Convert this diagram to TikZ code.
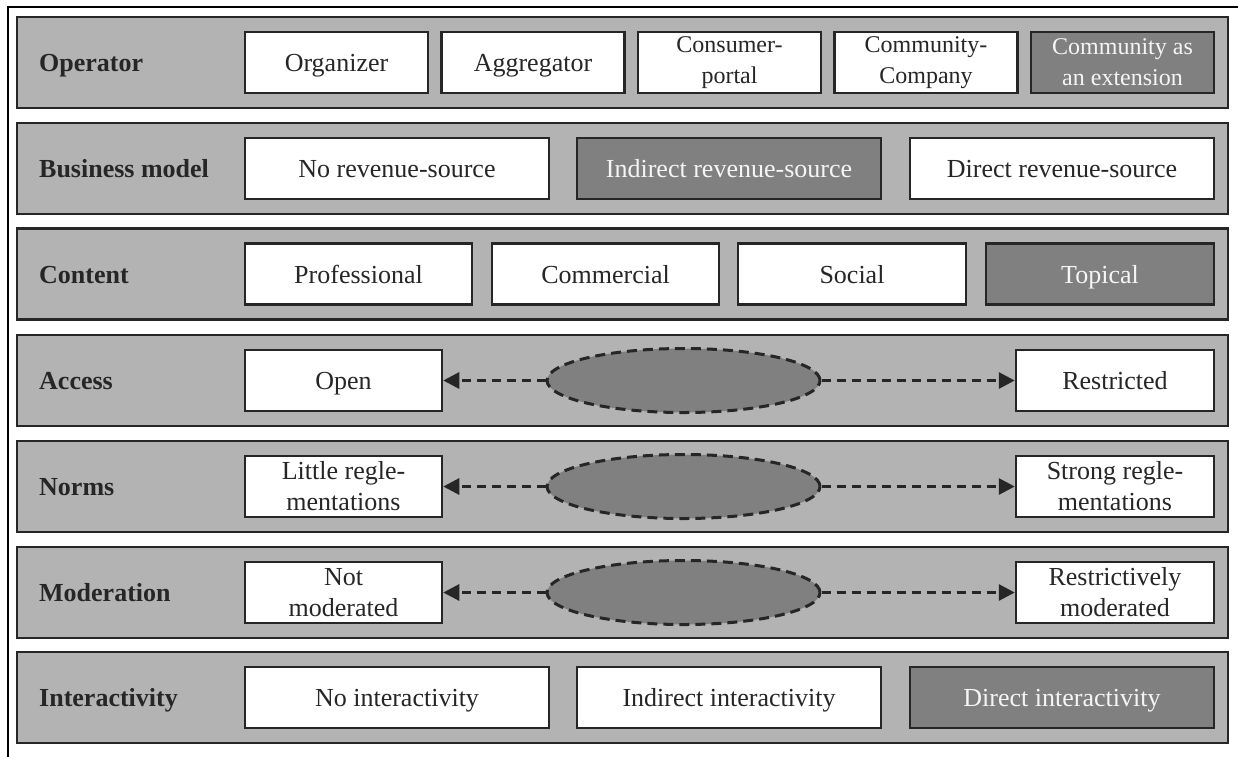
\documentclass[tikz,border=0pt]{standalone}
\usepackage{fontspec}
\setmainfont{Liberation Serif}
\usepackage{tikz}
\usetikzlibrary{shapes.geometric, arrows.meta, positioning}
\definecolor{bandgray}{RGB}{179,179,179}
\definecolor{boxdark}{RGB}{128,128,128}
\definecolor{linegray}{RGB}{38,38,38}
\definecolor{paletext}{RGB}{245,245,245}

\begin{document}
\begin{tikzpicture}[x=1pt,y=-1pt]
        \useasboundingbox (0,0) rectangle (1238,756);
        \draw[black,line width=2.5pt] (8,7) rectangle (1250,770);
        % bands
        \begin{scope}[every node/.style={draw=linegray,line width=2.5pt,fill=bandgray,
            minimum width=1211pt,minimum height=91pt,inner sep=0}]
          \node (operator) at (622.5,62.5) {};
          \node (business) at (622.5,168.3) {};
          \node (content) at (622.5,274.2) {};
          \node (access) at (622.5,380.5) {};
          \node (norms) at (622.5,486.5) {};
          \node (moderation) at (622.5,592.5) {};
          \node (interact) at (622.5,697.5) {};
        \end{scope}
        % row labels
        \begin{scope}[every node/.style={anchor=west,inner sep=0,text=linegray,
            text height=18pt,text depth=0pt,font=\fontsize{26}{31}\selectfont\bfseries}]
          \node (lop) at (39,62.5) {Operator};
          \node (lbm) at (39,168.3) {Business model};
          \node (lco) at (39,274.2) {Content};
          \node (lac) at (39,380.5) {Access};
          \node (lno) at (39,486.5) {Norms};
          \node (lmo) at (39,592.5) {Moderation};
          \node (lin) at (39,697.5) {Interactivity};
        \end{scope}
        % boxes
        \begin{scope}[every node/.style={draw=linegray,line width=2.5pt,fill=white,text=linegray,
            minimum height=61pt,inner sep=0,align=center,font=\fontsize{26}{31}\selectfont},
            pick/.style={fill=boxdark,text=paletext},
            one/.style={text height=18pt,text depth=0pt},
            small/.style={font=\fontsize{24}{31}\selectfont}]
          \node[minimum width=183pt,one] (organizer) at (336.5,62.5) {Organizer};
          \node[minimum width=183pt,one] (aggregator) at (533,62.5) {Aggregator};
          \node[minimum width=183pt,small] (portal) at (729.5,62.5) {Consumer-\\portal};
          \node[minimum width=183pt,small] (company) at (926,62.5) {Community-\\Company};
          \node[minimum width=183pt,small,pick] (extension) at (1122.5,62.5) {Community as\\an extension};

          \node[minimum width=304pt,one] (norev) at (397,168.3) {No revenue-source};
          \node[minimum width=304pt,one,pick] (indrev) at (729,168.3) {Indirect revenue-source};
          \node[minimum width=304pt,one] (dirrev) at (1062,168.3) {Direct revenue-source};

          \node[minimum width=227pt,one] (professional) at (358.5,274.2) {Professional};
          \node[minimum width=227pt,one] (commercial) at (605.5,274.2) {Commercial};
          \node[minimum width=228pt,one] (social) at (852,274.2) {Social};
          \node[minimum width=228pt,one,pick] (topical) at (1100,274.2) {Topical};

          \node[minimum width=197pt,one] (open) at (343.5,380.5) {Open};
          \node[minimum width=198pt,one] (restricted) at (1115,380.5) {Restricted};
          \node[minimum width=197pt] (little) at (343.5,486.5) {Little regle-\\mentations};
          \node[minimum width=198pt] (strong) at (1115,486.5) {Strong regle-\\mentations};
          \node[minimum width=197pt] (notmod) at (343.5,592.5) {Not\\moderated};
          \node[minimum width=198pt] (restmod) at (1115,592.5) {Restrictively\\moderated};

          \node[minimum width=304pt,one] (nointer) at (397,697.5) {No interactivity};
          \node[minimum width=304pt,one] (indinter) at (729,697.5) {Indirect interactivity};
          \node[minimum width=304pt,one,pick] (dirinter) at (1062,697.5) {Direct interactivity};
        \end{scope}
        % scale middles
        \begin{scope}[every node/.style={ellipse,draw=linegray,line width=3pt,
            dash pattern=on 10pt off 6pt,fill=boxdark,minimum width=273pt,minimum height=64pt,inner sep=0}]
          \node (accmid) at (683.5,380.5) {};
          \node (normmid) at (683.5,486.5) {};
          \node (modmid) at (683.5,592.5) {};
        \end{scope}
        \begin{scope}[every edge/.style={draw=linegray,line width=3pt,dash pattern=on 9pt off 6pt,
            -{Triangle[length=16pt,width=16pt]}}]
          \path (accmid) edge (open);
          \path (accmid) edge (restricted);
          \path (normmid) edge (little);
          \path (normmid) edge (strong);
          \path (modmid) edge (notmod);
          \path (modmid) edge (restmod);
        \end{scope}
      \end{tikzpicture}
\end{document}
